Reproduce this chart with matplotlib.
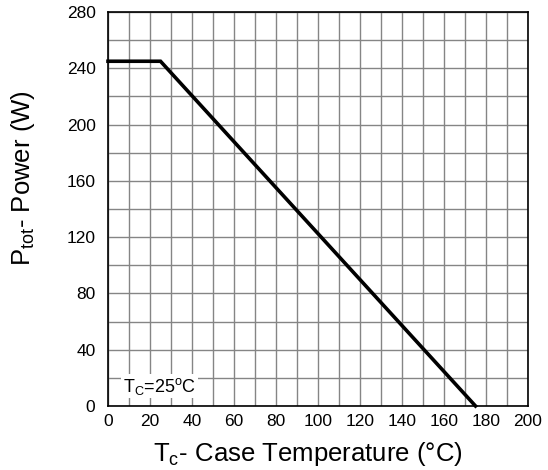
import matplotlib
matplotlib.use("Agg")
import matplotlib.pyplot as plt
from matplotlib.ticker import MultipleLocator

plt.rcParams['font.family'] = ['Liberation Sans', 'DejaVu Sans']
plt.rcParams['mathtext.fontset'] = 'custom'
plt.rcParams['mathtext.rm'] = 'Liberation Sans'
plt.rcParams['mathtext.it'] = 'Liberation Sans'

temp_c = [0, 25, 175]
power_w = [245, 245, 0]
x_ticks = list(range(0, 201, 20))
y_ticks = list(range(0, 281, 40))

fig = plt.figure(figsize=(5.48, 4.70), dpi=100)
ax = fig.add_axes([108/548, 1 - 406/470, 420/548, 394/470])

ax.set_xlim(0, 200)
ax.set_ylim(0, 280)
ax.xaxis.set_minor_locator(MultipleLocator(10))
ax.yaxis.set_minor_locator(MultipleLocator(20))
ax.set_xticks(x_ticks)
ax.set_yticks(y_ticks)
ax.grid(True, which='both', color='#858585', linewidth=1.0)
ax.set_axisbelow(True)
ax.tick_params(which='both', length=0, labelsize=12.5)
ax.tick_params(axis='y', pad=9)
ax.tick_params(axis='x', pad=5.5)
for s in ax.spines.values():
    s.set_linewidth(1.2)
    s.set_color('black')

ax.plot(temp_c, power_w, color='black', linewidth=2.6, solid_joinstyle='miter', clip_on=False, zorder=3)

ax.text(7.1, 10, r'T$_{\rm C}$=25$^{\rm o}$C', fontsize=13, va='baseline', ha='left',
        bbox=dict(facecolor='white', edgecolor='none', pad=1.0), zorder=4)

ax.set_xlabel(r'T$_{\rm c}$- Case Temperature (°C)', fontsize=18.5, va='baseline')
ax.xaxis.set_label_coords(0.477, -0.1396)
ax.set_ylabel(r'P$_{\rm tot}$- Power (W)', fontsize=18.5, va='baseline')
ax.yaxis.set_label_coords(-0.186, 0.579)

fig.savefig('out.png', dpi=100)
